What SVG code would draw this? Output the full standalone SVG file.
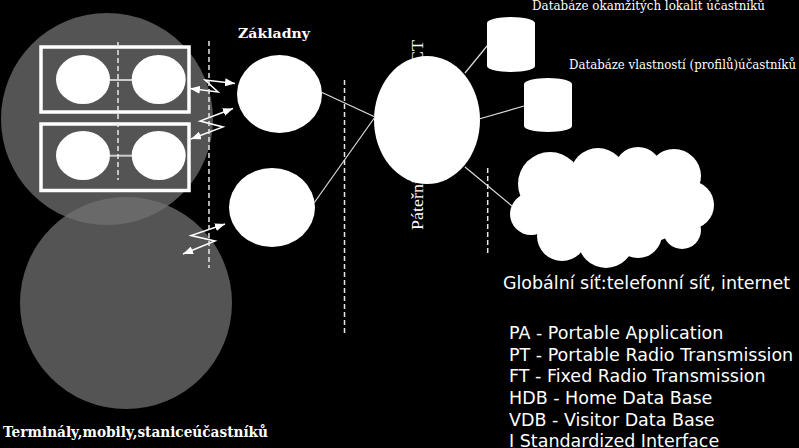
<svg xmlns="http://www.w3.org/2000/svg" width="799" height="448" viewBox="0 0 799 448">
<style>
.dash{stroke:#e8e8e8;stroke-width:1.5;stroke-dasharray:5 3;fill:none}
.conn{stroke:#dddddd;stroke-width:1.2;fill:none}
.zig{stroke:#ffffff;stroke-width:1.5;fill:none;marker-start:url(#ah);marker-end:url(#ah)}
.w{fill:#ffffff}
.box{fill:#545454;stroke:#ffffff;stroke-width:3.5}
.link{stroke:#cccccc;stroke-width:2}
.serifb{font-family:"DejaVu Serif","Liberation Serif",serif;font-weight:bold;fill:#ffffff}
.serif{font-family:"DejaVu Serif","Liberation Serif",serif;fill:#ffffff}
.sans{font-family:"DejaVu Sans","Liberation Sans",sans-serif;font-size:17.5px;fill:#ffffff}
</style>
<defs>
<marker id="ah" viewBox="0 0 10 8" refX="10" refY="4" markerWidth="10" markerHeight="8" markerUnits="userSpaceOnUse" orient="auto-start-reverse">
<path d="M0,0 L10,4 L0,8 z" fill="#ffffff"/>
</marker>
</defs>
<rect width="799" height="448" fill="#000000"/>

<g id="cell-upper">
<circle cx="107" cy="119" r="106" fill="#545454"/>
</g>
<g id="cell-lower">
<circle cx="126" cy="303" r="106" fill="#717171" fill-opacity="0.74"/>
</g>

<g id="terminal-1">
<rect class="box" x="41" y="47" width="148" height="65"/>
<line class="link" x1="110" y1="80" x2="132" y2="80"/>
<ellipse class="w" cx="83" cy="79.5" rx="27" ry="24.5"/>
<ellipse class="w" cx="158.7" cy="79.5" rx="27" ry="24.5"/>
</g>
<g id="terminal-2">
<rect class="box" x="41" y="124" width="148" height="66.5"/>
<line class="link" x1="110" y1="155.7" x2="132" y2="155.7"/>
<ellipse class="w" cx="83" cy="155.5" rx="27" ry="24.5"/>
<ellipse class="w" cx="158.7" cy="155.5" rx="27" ry="24.5"/>
</g>

<g id="base-1">
<ellipse class="w" cx="279.5" cy="94" rx="42.5" ry="39"/>
<text class="serifb" x="238" y="37.5" font-size="13.5" textLength="72" lengthAdjust="spacingAndGlyphs">Základny</text>
</g>
<g id="base-2">
<ellipse class="w" cx="272" cy="207.5" rx="43" ry="39.5"/>
</g>

<g id="backbone">
<text class="serif" font-size="17" transform="translate(423,230) rotate(-90)" style="font-family:'Liberation Serif',serif" textLength="190" lengthAdjust="spacingAndGlyphs">Páteřní síť systému DECT</text>
<ellipse class="w" cx="427" cy="120" rx="53" ry="64"/>
</g>

<g id="db-location">
<path class="w" d="M487,23 a24,6 0 0 1 48,0 v43 a24,6 0 0 1 -48,0 z"/>
<text class="serif" x="532" y="9.5" font-size="12" textLength="233" lengthAdjust="spacingAndGlyphs">Databáze okamžitých lokalit účastníků</text>
</g>
<g id="db-profile">
<path class="w" d="M524,84 a24,6 0 0 1 48,0 v42 a24,6 0 0 1 -48,0 z"/>
<text class="serif" x="569" y="68.5" font-size="12" textLength="227" lengthAdjust="spacingAndGlyphs">Databáze vlastností (profilů)účastníků</text>
</g>

<g id="global-net">
<g class="w">
<ellipse cx="612" cy="208" rx="82" ry="40"/>
<circle cx="550" cy="184" r="32"/>
<circle cx="598" cy="176" r="28"/>
<circle cx="638" cy="171" r="24"/>
<circle cx="674" cy="176" r="27"/>
<circle cx="690" cy="205" r="24"/>
<circle cx="682" cy="230" r="19"/>
<circle cx="638" cy="234" r="24"/>
<circle cx="606" cy="240" r="28"/>
<circle cx="562" cy="236" r="25"/>
<circle cx="531" cy="214" r="21"/>
</g>
<text class="sans" x="503" y="289" textLength="287" lengthAdjust="spacingAndGlyphs">Globální síť:telefonní síť, internet</text>
</g>

<g id="connectors">
<line class="conn" x1="321" y1="92" x2="375" y2="117"/>
<line class="conn" x1="314" y1="203" x2="375" y2="117"/>
<line class="conn" x1="465" y1="73" x2="487" y2="46"/>
<line class="conn" x1="479" y1="119" x2="524" y2="106"/>
<line class="conn" x1="465" y1="167" x2="512" y2="206"/>
<polyline class="zig" points="190,88.5 218,92 205,80 235,83.5"/>
<polyline class="zig" points="191,139 223,127 200,121 233,108.5"/>
<polyline class="zig" points="183,254 215,241 191,235.5 225,224"/>
</g>

<g id="boundaries">
<line class="dash" x1="118" y1="42" x2="118" y2="180"/>
<line class="dash" x1="209" y1="41" x2="209" y2="268"/>
<line class="dash" x1="344.5" y1="80" x2="344.5" y2="336"/>
<line class="dash" x1="487.7" y1="168" x2="487.7" y2="253"/>
</g>

<g id="legend">
<text class="serifb" x="3" y="436.5" font-size="14" textLength="265" lengthAdjust="spacingAndGlyphs">Terminály,mobily,staniceúčastníků</text>
<text class="sans" x="509" y="339">PA - Portable Application</text>
<text class="sans" x="509" y="360.7">PT - Portable Radio Transmission</text>
<text class="sans" x="509" y="382.3">FT - Fixed Radio Transmission</text>
<text class="sans" x="509" y="404">HDB - Home Data Base</text>
<text class="sans" x="509" y="425.7">VDB - Visitor Data Base</text>
<text class="sans" x="509" y="446.5">I Standardized Interface</text>
</g>
</svg>
